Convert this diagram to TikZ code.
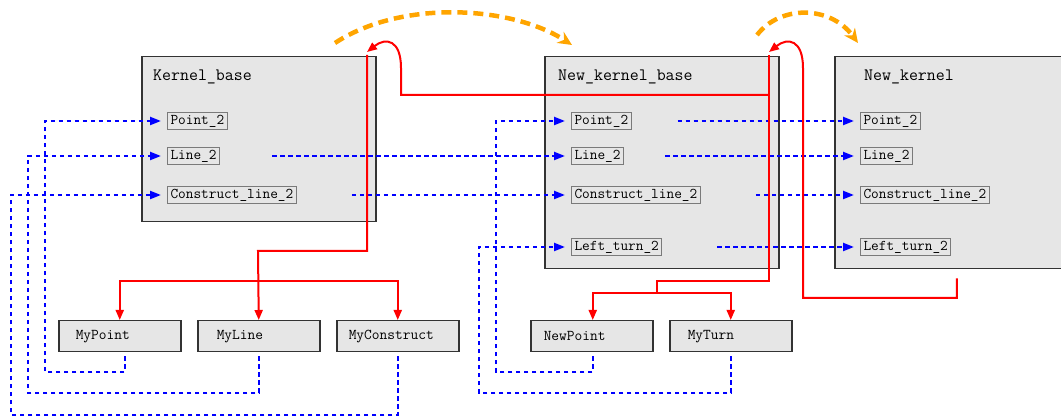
\documentclass[tikz,border=0pt]{standalone}
\usetikzlibrary{arrows.meta}
\definecolor{boxfill}{HTML}{E6E6E6}
\definecolor{boxline}{HTML}{333333}
\definecolor{lblline}{HTML}{7A7A7A}
\definecolor{orng}{HTML}{FFA500}
\begin{document}
\begin{tikzpicture}[x=1pt,y=-1pt,
 bigbox/.style={draw=boxline, fill=boxfill, line width=1.5pt, minimum width=234pt, inner sep=0pt, anchor=north west},
 ttl/.style={anchor=west, inner sep=0pt, font=\ttfamily\fontsize{17.4}{20}\selectfont},
 lbl/.style={anchor=west, draw=lblline, fill=boxfill, line width=1pt, inner xsep=3pt, inner ysep=2.5pt, text height=9.3pt, text depth=1.8pt, font=\ttfamily\fontsize{14.9}{17}\selectfont},
 lowbox/.style={draw=boxline, fill=boxfill, line width=1.5pt, minimum height=31pt, inner ysep=0pt, align=left, font=\ttfamily\fontsize{15}{18}\selectfont, anchor=north west},
 bl/.style={blue, line width=2.2pt, dash pattern=on 4.5pt off 3.5pt, -{Triangle[length=11pt,width=8pt]}},
 rl/.style={red, line width=2pt},
 ra/.style={rl, -{Triangle[length=10pt,width=8pt]}},
 og/.style={orng, line width=4.5pt, dash pattern=on 10pt off 6pt, -{Stealth[length=14pt,width=13pt]}}
]
\useasboundingbox (0,0) rectangle (1061,419);

% big boxes
\node[bigbox, minimum height=165pt] (KB) at (141,56) {};
\node[bigbox, minimum height=212pt] (NKB) at (544,56) {};
\node[bigbox, minimum height=212pt] (NK) at (834,56) {};

\node[ttl] (KBt) at (153,77) {Kernel\_base};
\node[ttl] (NKBt) at (558,77) {New\_kernel\_base};
\node[ttl] (NKt) at (864,77) {New\_kernel};

% inner labels
\node[lbl] (KBp) at (167,121) {Point\_2};
\node[lbl] (KBl) at (167,156) {Line\_2};
\node[lbl] (KBc) at (167,195) {Construct\_line\_2};

\node[lbl] (NBp) at (571,121) {Point\_2};
\node[lbl] (NBl) at (571,156) {Line\_2};
\node[lbl] (NBc) at (571,195) {Construct\_line\_2};
\node[lbl] (NBt) at (571,247) {Left\_turn\_2};

\node[lbl] (NKp) at (860,121) {Point\_2};
\node[lbl] (NKl) at (860,156) {Line\_2};
\node[lbl] (NKc) at (860,195) {Construct\_line\_2};
\node[lbl] (NKtu) at (860,247) {Left\_turn\_2};

% bottom boxes
\node[lowbox, inner xsep=17pt, text width=88pt] (MP) at (58,320) {MyPoint};
\node[lowbox, inner xsep=19pt, text width=84pt] (ML) at (197,320) {MyLine};
\node[lowbox, inner xsep=12pt, text width=98pt] (MC) at (336,320) {MyConstruct};
\node[lowbox, inner xsep=13pt, text width=96pt] (NP) at (530,320) {NewPoint};
\node[lowbox, inner xsep=18pt, text width=86pt] (MT) at (669,320) {MyTurn};

% blue dashed connectors
\draw[bl] ([xshift=5pt,yshift=-4pt]MP.south) |- (45,372) |- ([xshift=-6pt]KBp.west);
\draw[bl] ([yshift=-4pt]ML.south) |- (28,393) |- ([xshift=-6pt]KBl.west);
\draw[bl] ([yshift=-4pt]MC.south) |- (11,415) |- ([xshift=-6pt]KBc.west);
\draw[bl] ([xshift=1pt,yshift=-4pt]NP.south) |- (496,372) |- ([xshift=-6pt]NBp.west);
\draw[bl] ([yshift=-4pt]MT.south) |- (479,393) |- ([xshift=-6pt]NBt.west);

\draw[bl] ([xshift=52pt]KBl.east) -- ([xshift=-6pt]NBl.west);
\draw[bl] ([xshift=55pt]KBc.east) -- ([xshift=-6pt]NBc.west);
\draw[bl] ([xshift=46pt]NBp.east) -- ([xshift=-6pt]NKp.west);
\draw[bl] ([xshift=41pt]NBl.east) -- ([xshift=-6pt]NKl.west);
\draw[bl] ([xshift=55pt]NBc.east) -- ([xshift=-6pt]NKc.west);
\draw[bl] ([xshift=55pt]NBt.east) -- ([xshift=-6pt]NKtu.west);

% red tree under Kernel_base
\coordinate (kbtop) at (367,55);
\coordinate (kbbend) at (258,251);
\coordinate (kbsplit) at (258,281);
\draw[ra] (kbtop) |- (kbbend) -- (ML.north);
\draw[ra] (kbsplit) -| (MP.north);
\draw[ra] (kbsplit) -| (MC.north);

% red tree under New_kernel_base
\coordinate (nbtop) at (769,55);
\coordinate (nbsplit) at (657,293);
\draw[rl] (nbtop) |- (657,281) -- (nbsplit);
\draw[ra] (nbsplit) -| ([xshift=1pt]NP.north);
\draw[ra] (nbsplit) -| (MT.north);

% red curved links
\coordinate (kbtip) at (367,52);
\coordinate (nbtip) at (769,52);
\draw[ra] (769,95) -- (401,95) -- (401,68) .. controls (401,40) and (386,37) .. (kbtip);
\draw[ra] ([xshift=5pt,yshift=-9pt]NK.south) |- (803,298) -- (803,68) .. controls (803,40) and (788,37) .. (nbtip);

% orange dashed arcs
\coordinate (o1a) at (335,43);
\coordinate (o1b) at (572,45);
\coordinate (o2a) at (757,35);
\coordinate (o2b) at (858,43);
\draw[og] (o1a) .. controls (400,0) and (510,5) .. (o1b);
\draw[og] (o2a) .. controls (780,5) and (830,5) .. (o2b);
\end{tikzpicture}
\end{document}
